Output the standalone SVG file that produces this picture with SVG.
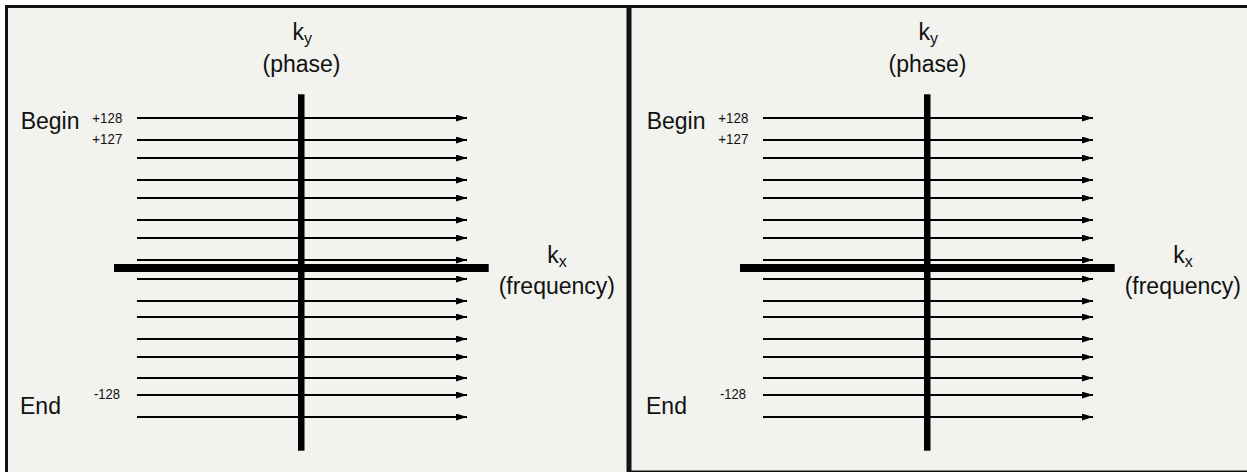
<svg xmlns="http://www.w3.org/2000/svg" width="1247" height="472" viewBox="0 0 1247 472">
  <defs>
    <style>
      .bg { fill: #F2F2EE; }
      .frame { fill: #111111; }
      .axis { fill: #000000; }
      .scan { stroke: #000000; stroke-width: 2; fill: none; marker-end: url(#arrow); }
      .lbl { font-family: "Liberation Sans", Arial, sans-serif; font-size: 23px; fill: #111111; }
      .num { font-family: "Liberation Sans", Arial, sans-serif; font-size: 15.5px; fill: #111111; text-anchor: end; }
      .sub { font-size: 16px; }
      .mid { text-anchor: middle; }
    </style>
    <marker id="arrow" markerUnits="userSpaceOnUse" markerWidth="12" markerHeight="8" refX="11" refY="3.5" orient="auto">
      <path d="M0,0 L11,3.5 L0,7 Z" fill="#000000"/>
    </marker>
    <g id="scanset">
      <line class="scan" x1="137" y1="118" x2="467" y2="118"/>
      <line class="scan" x1="137" y1="140" x2="467" y2="140"/>
      <line class="scan" x1="137" y1="158" x2="467" y2="158"/>
      <line class="scan" x1="137" y1="180" x2="467" y2="180"/>
      <line class="scan" x1="137" y1="198" x2="467" y2="198"/>
      <line class="scan" x1="137" y1="220" x2="467" y2="220"/>
      <line class="scan" x1="137" y1="238" x2="467" y2="238"/>
      <line class="scan" x1="137" y1="260" x2="467" y2="260"/>
      <line class="scan" x1="137" y1="279" x2="467" y2="279"/>
      <line class="scan" x1="137" y1="301" x2="467" y2="301"/>
      <line class="scan" x1="137" y1="317" x2="467" y2="317"/>
      <line class="scan" x1="137" y1="339" x2="467" y2="339"/>
      <line class="scan" x1="137" y1="357" x2="467" y2="357"/>
      <line class="scan" x1="137" y1="378" x2="467" y2="378"/>
      <line class="scan" x1="137" y1="395" x2="467" y2="395"/>
      <line class="scan" x1="137" y1="417" x2="467" y2="417"/>
    </g>
  </defs>

  <rect x="0" y="0" width="1247" height="472" fill="#FFFFFF"/>
  <rect class="bg" x="5" y="5" width="1242" height="467"/>

  <g id="frame">
    <rect class="frame" x="5" y="5" width="1242" height="3"/>
    <rect class="frame" x="5" y="5" width="3" height="467"/>
    <rect class="frame" x="626.5" y="5" width="5" height="467"/>
    <rect class="frame" x="627" y="470.5" width="620" height="2"/>
  </g>

  <g id="connectors">
    <use id="left-scanlines" href="#scanset"/>
    <use id="right-scanlines" href="#scanset" transform="translate(626,0)"/>
  </g>

  <g id="left-panel">
    <g id="left-ky-axis">
      <rect class="axis" x="298" y="94.3" width="6.5" height="356.4"/>
      <text class="lbl" x="292.5" y="39.5">k<tspan class="sub" dy="4">y</tspan></text>
      <text class="lbl mid" x="301.5" y="72">(phase)</text>
    </g>
    <g id="left-kx-axis">
      <rect class="axis" x="114" y="264" width="374.7" height="8"/>
      <text class="lbl" x="547.3" y="262.7">k<tspan class="sub" dy="4">x</tspan></text>
      <text class="lbl mid" x="556.8" y="293.5">(frequency)</text>
    </g>
    <g id="left-begin">
      <text class="lbl" x="20.7" y="129.3">Begin</text>
      <text class="num" x="122.3" y="122.7" textLength="30" lengthAdjust="spacingAndGlyphs">+128</text>
      <text class="num" x="122.3" y="144" textLength="30" lengthAdjust="spacingAndGlyphs">+127</text>
    </g>
    <g id="left-end">
      <text class="lbl" x="20" y="414">End</text>
      <text class="num" x="120" y="399" textLength="26" lengthAdjust="spacingAndGlyphs">-128</text>
    </g>
  </g>

  <g id="right-panel" transform="translate(626,0)">
    <g id="right-ky-axis">
      <rect class="axis" x="298" y="94.3" width="6.5" height="356.4"/>
      <text class="lbl" x="292.5" y="39.5">k<tspan class="sub" dy="4">y</tspan></text>
      <text class="lbl mid" x="301.5" y="72">(phase)</text>
    </g>
    <g id="right-kx-axis">
      <rect class="axis" x="114" y="264" width="374.7" height="8"/>
      <text class="lbl" x="547.3" y="262.7">k<tspan class="sub" dy="4">x</tspan></text>
      <text class="lbl mid" x="556.8" y="293.5">(frequency)</text>
    </g>
    <g id="right-begin">
      <text class="lbl" x="20.7" y="129.3">Begin</text>
      <text class="num" x="122.3" y="122.7" textLength="30" lengthAdjust="spacingAndGlyphs">+128</text>
      <text class="num" x="122.3" y="144" textLength="30" lengthAdjust="spacingAndGlyphs">+127</text>
    </g>
    <g id="right-end">
      <text class="lbl" x="20" y="414">End</text>
      <text class="num" x="120" y="399" textLength="26" lengthAdjust="spacingAndGlyphs">-128</text>
    </g>
  </g>
</svg>
